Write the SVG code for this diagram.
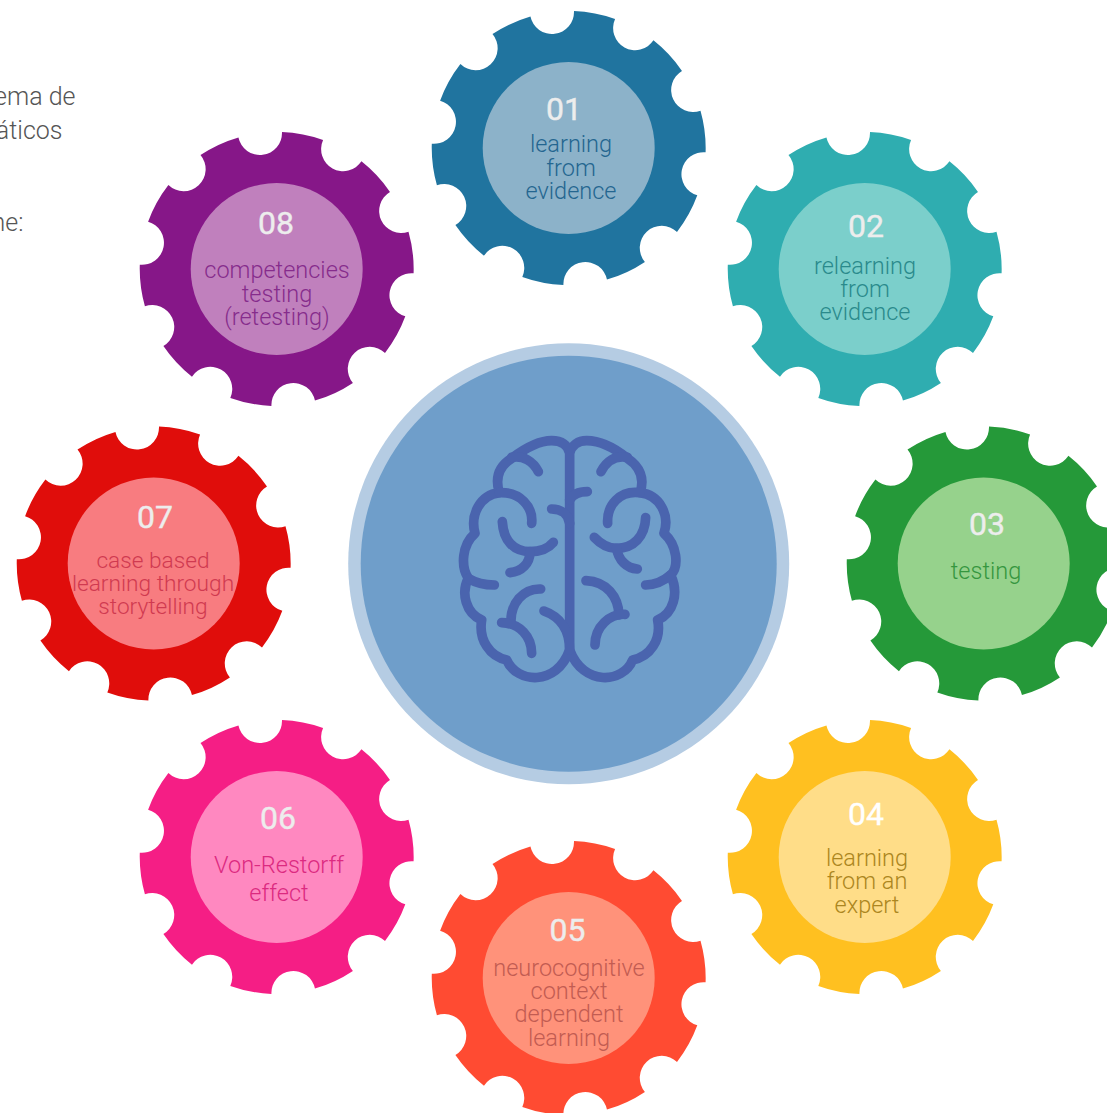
<svg xmlns="http://www.w3.org/2000/svg" xmlns:xlink="http://www.w3.org/1999/xlink" width="1107" height="1113" viewBox="0 0 1107 1113">
<style>
text{font-family:Roboto,"Liberation Sans",sans-serif;text-anchor:middle}
.n{font-size:32px;font-weight:400;fill:#ededed;stroke:#ededed;stroke-width:.4}
.l{font-size:23.5px;font-weight:300}
.t{font-size:25px;font-weight:300;fill:#555;text-anchor:end}
.b{fill:none;stroke:#4a64ae;stroke-width:29;stroke-linecap:round;stroke-linejoin:round}
</style>
<defs>
<path id="gear" d="M-38.25,-131.55A22,22 0 0 0 5.28,-136.9A137,137 0 0 1 46.38,-128.9A22,22 0 0 0 84.74,-107.65A137,137 0 0 1 113.3,-77A22,22 0 0 0 131.8,-37.3A137,137 0 0 1 136.9,4.28A22,22 0 0 0 128.6,47.3A137,137 0 0 1 108.3,83.9A22,22 0 0 0 76.2,113.9A137,137 0 0 1 38.25,131.55A22,22 0 0 0 -5.28,136.9A137,137 0 0 1 -46.38,128.9A22,22 0 0 0 -84.74,107.65A137,137 0 0 1 -113.3,77A22,22 0 0 0 -131.8,37.3A137,137 0 0 1 -136.9,-4.28A22,22 0 0 0 -128.6,-47.3A137,137 0 0 1 -108.3,-83.9A22,22 0 0 0 -76.2,-113.9A137,137 0 0 1 -38.25,-131.55Z"/>
</defs>
<rect width="1107" height="1113" fill="#fff"/>
<g id="intro">
<text class="t" x="75.500" y="105">ema de</text>
<text class="t" x="62.500" y="139">áticos</text>
<text class="t" x="23.500" y="231">ne:</text>
</g>
<g id="center">
<circle cx="568.700" cy="563.700" r="220.500" fill="#b5cce3"/>
<circle cx="568.700" cy="563.700" r="208" fill="#6f9eca"/>
<g transform="translate(440,420) scale(.3333)" class="b">
<path d="M389,690V100C385,75 365,62 335,62C295,62 255,85 215,115C175,140 165,175 178,218C120,225 90,285 105,340C65,375 62,440 85,475C62,520 78,580 125,600C115,660 150,710 200,720C230,790 350,800 389,690C430,800 550,790 578,720C630,710 665,660 653,600C700,580 718,520 692,465C718,440 712,375 672,340C690,285 660,225 600,218C615,175 600,140 562,115C525,85 480,62 440,62C415,62 395,75 389,100"/>
<path d="M215,112C250,105 280,125 295,155"/>
<path d="M178,218C240,215 280,260 275,310"/>
<path d="M187,305C190,360 220,395 270,395C300,395 325,385 340,367"/>
<path d="M270,395C270,430 245,455 210,458"/>
<path d="M85,475C110,490 135,495 163,495"/>
<path d="M302,507C250,505 210,550 213,610"/>
<path d="M185,608C240,610 275,650 275,700"/>
<path d="M312,573C360,590 389,630 389,690"/>
<path d="M335,267C360,267 385,280 389,310"/>
<path d="M562,112C525,105 498,125 483,155"/>
<path d="M600,218C540,210 500,255 503,310"/>
<path d="M617,293C615,350 580,385 530,385C505,385 480,370 463,352"/>
<path d="M530,385C535,420 560,445 592,447"/>
<path d="M617,495C650,495 675,480 692,465"/>
<path d="M438,482C500,485 535,530 537,585"/>
<path d="M555,583C510,580 465,620 465,675"/>
<path d="M389,240C400,220 420,215 442,215"/>
</g>
</g>
<g id="connectors"/>
<g id="node1"><use xlink:href="#gear" href="#gear" x="568.700" y="148" fill="#20749f"/><circle cx="568.700" cy="148" r="86" fill="#8cb2c9"/>
<text class="n" x="564" y="120">01</text>
<g class="l" fill="#246690"><text x="571" y="152">learning</text><text x="571" y="176">from</text><text x="571" y="199">evidence</text></g></g>
<g id="node2"><use xlink:href="#gear" href="#gear" x="864.700" y="269" fill="#2fadb0"/><circle cx="864.700" cy="269" r="86" fill="#7bcfcb"/>
<text class="n" x="866" y="237">02</text>
<g class="l" fill="#2a8a8c"><text x="865" y="274">relearning</text><text x="865" y="297">from</text><text x="865" y="320">evidence</text></g></g>
<g id="node3"><use xlink:href="#gear" href="#gear" x="983.700" y="563.500" fill="#259939"/><circle cx="983.700" cy="563.500" r="86" fill="#96d28c"/>
<text class="n" x="987" y="535">03</text>
<g class="l" fill="#35963f"><text x="986" y="579">testing</text></g></g>
<g id="node4"><use xlink:href="#gear" href="#gear" x="864.700" y="857" fill="#ffc020"/><circle cx="864.700" cy="857" r="86" fill="#ffdd88"/>
<text class="n" x="866" y="825" style="fill:#fff;stroke:#fff">04</text>
<g class="l" fill="#ac8620"><text x="867" y="866">learning</text><text x="867" y="889">from an</text><text x="867" y="913">expert</text></g></g>
<g id="node5"><use xlink:href="#gear" href="#gear" x="568.700" y="978" fill="#ff4b32"/><circle cx="568.700" cy="978" r="86" fill="#ff927a"/>
<text class="n" x="567.500" y="941">05</text>
<g class="l" fill="#c25c52"><text x="569" y="976">neurocognitive</text><text x="569" y="999">context</text><text x="569" y="1022">dependent</text><text x="569" y="1046">learning</text></g></g>
<g id="node6"><use xlink:href="#gear" href="#gear" x="276.700" y="857" fill="#f51e85"/><circle cx="276.700" cy="857" r="86" fill="#ff88c0"/>
<text class="n" x="278" y="829">06</text>
<g class="l" fill="#dc2a80"><text x="279" y="873">Von-Restorff</text><text x="279" y="901">effect</text></g></g>
<g id="node7"><use xlink:href="#gear" href="#gear" x="153.700" y="563.500" fill="#e00d0b"/><circle cx="153.700" cy="563.500" r="86" fill="#f87c80"/>
<text class="n" x="155" y="528">07</text>
<g class="l" fill="#d03a50" style="font-size:22.700px"><text x="153" y="567.500">case based</text><text x="153" y="591">learning through</text><text x="153" y="614">storytelling</text></g></g>
<g id="node8"><use xlink:href="#gear" href="#gear" x="276.700" y="269" fill="#861788"/><circle cx="276.700" cy="269" r="86" fill="#c080bd"/>
<text class="n" x="276" y="234">08</text>
<g class="l" fill="#862c8c"><text x="277" y="278">competencies</text><text x="277" y="302">testing</text><text x="277" y="325">(retesting)</text></g></g>
</svg>
